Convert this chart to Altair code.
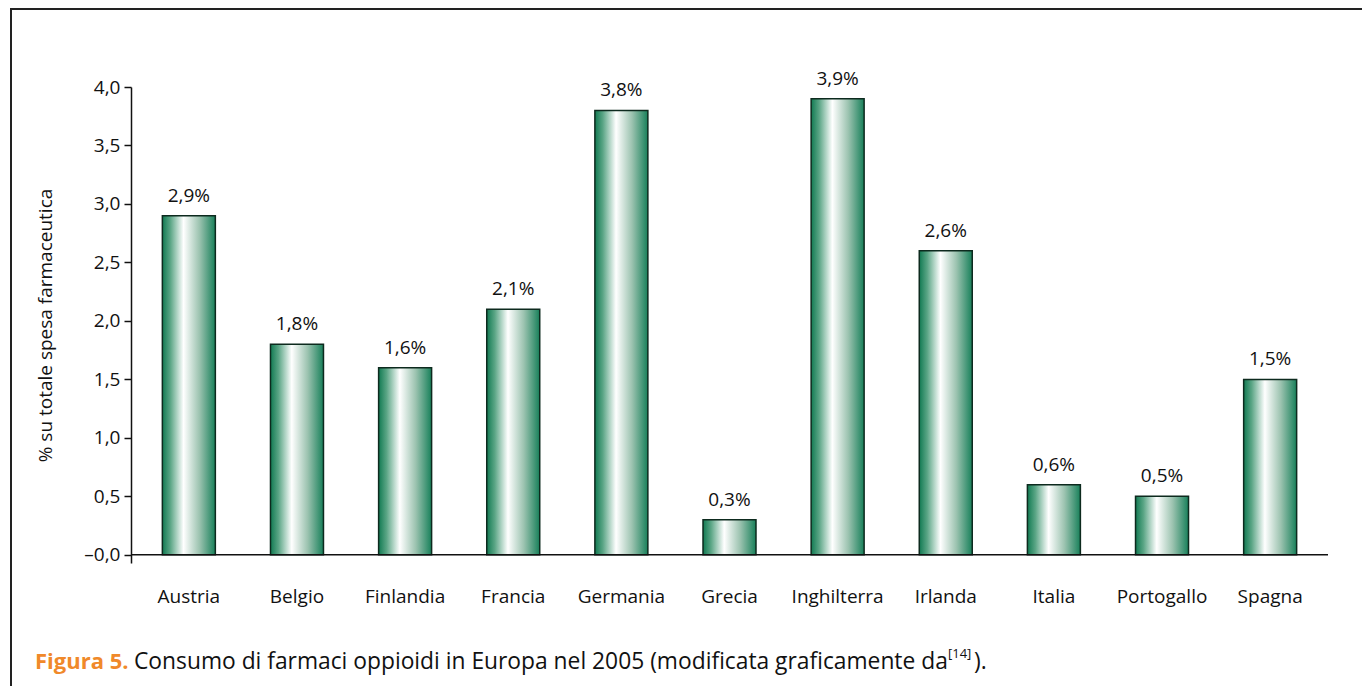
import altair as alt
import pandas as pd

# Opioid spending share by country, 2005
countries = ["Austria", "Belgio", "Finlandia", "Francia", "Germania", "Grecia",
             "Inghilterra", "Irlanda", "Italia", "Portogallo", "Spagna"]
values = [2.9, 1.8, 1.6, 2.1, 3.8, 0.3, 3.9, 2.6, 0.6, 0.5, 1.5]
y_ticks = [0, 0.5, 1.0, 1.5, 2.0, 2.5, 3.0, 3.5, 4.0]

df = pd.DataFrame({"paese": countries, "valore": values})
df["etichetta"] = [f"{v:.1f}".replace(".", ",") + "%" for v in values]

FONT = "Open Sans"
W, H = 1197, 476

x_enc = alt.X("paese:N", sort=countries,
              scale=alt.Scale(paddingInner=0.51, paddingOuter=0.29),
              axis=alt.Axis(title=None, domain=False, ticks=False, labelAngle=0,
                            labelPadding=24, labelFontSize=19, labelFont=FONT,
                            labelColor="#111"))
y_scale = alt.Scale(domain=[-0.07, 4.0], nice=False, zero=False)

gradient = alt.Gradient(
    gradient="linear", x1=0, x2=1, y1=0, y2=0,
    stops=[
        alt.GradientStop(color="#117a52", offset=0),
        alt.GradientStop(color="#5aa585", offset=0.15),
        alt.GradientStop(color="#ffffff", offset=0.4),
        alt.GradientStop(color="#9cc3b0", offset=0.7),
        alt.GradientStop(color="#18805a", offset=1),
    ],
)

bars = alt.Chart(df).mark_bar(
    fill=gradient, stroke="#0d2a1e", strokeWidth=1.5
).encode(
    x=x_enc,
    y=alt.Y("valore:Q", scale=y_scale,
            axis=alt.Axis(values=y_ticks, title="% su totale spesa farmaceutica",
                          titleFont=FONT, titleFontSize=19, titleFontWeight="normal",
                          titleColor="#111", titlePadding=28,
                          labelFont=FONT, labelFontSize=19, labelColor="#111",
                          labelExpr="datum.value == 0 ? '–0,0' : replace(format(datum.value, '.1f'), '.', ',')",
                          domainColor="#111", domainWidth=1.5, tickColor="#111",
                          tickWidth=1.5, tickSize=7, labelPadding=4,
                          grid=False)),
    y2=alt.datum(0),
)

labels = alt.Chart(df).mark_text(
    baseline="bottom", dy=-10, font=FONT, fontSize=19, color="#111"
).encode(x=alt.X("paese:N", sort=countries), y=alt.Y("valore:Q", scale=y_scale), text="etichetta:N")

zero_line = alt.Chart(pd.DataFrame({"z": [0]})).mark_rule(
    color="#111", strokeWidth=1.5
).encode(y=alt.Y("z:Q", scale=y_scale), x=alt.value(0), x2=alt.value(W))

# Frame lines around the figure
frame_left = alt.Chart(pd.DataFrame({"a": [0]})).mark_rule(color="#222", strokeWidth=2).encode(
    x=alt.value(-120), y=alt.value(-78), y2=alt.value(H + 123))
frame_top = alt.Chart(pd.DataFrame({"a": [0]})).mark_rule(color="#222", strokeWidth=2).encode(
    x=alt.value(-121), x2=alt.value(W + 34), y=alt.value(-78))

cap_y = 575
cap_head = alt.Chart(pd.DataFrame({"t": ["Figura 5."]})).mark_text(
    align="left", baseline="middle", font=FONT, fontSize=22, fontWeight="bold", color="#f0892a"
).encode(x=alt.value(-96), y=alt.value(cap_y), text="t:N")
cap_body = alt.Chart(pd.DataFrame({"t": ["Consumo di farmaci oppioidi in Europa nel 2005 (modificata graficamente da"]})).mark_text(
    align="left", baseline="middle", font=FONT, fontSize=22.8, color="#111"
).encode(x=alt.value(3), y=alt.value(cap_y), text="t:N")
cap_ref = alt.Chart(pd.DataFrame({"t": ["[14]"]})).mark_text(
    align="left", baseline="middle", font=FONT, fontSize=13, color="#111"
).encode(x=alt.value(817), y=alt.value(cap_y - 8), text="t:N")
cap_end = alt.Chart(pd.DataFrame({"t": [")."]})).mark_text(
    align="left", baseline="middle", font=FONT, fontSize=22.8, color="#111"
).encode(x=alt.value(843), y=alt.value(cap_y), text="t:N")

chart = alt.layer(bars, labels, zero_line, frame_left, frame_top,
                  cap_head, cap_body, cap_ref, cap_end).properties(
    width=W, height=H,
    autosize=alt.AutoSizeParams(type="none"),
    padding={"left": 131, "top": 87, "right": 34, "bottom": 123},
).configure(background="white").configure_view(strokeWidth=0, stroke="transparent")

chart.save("out.html", embed_options={"renderer": "svg", "actions": False})
